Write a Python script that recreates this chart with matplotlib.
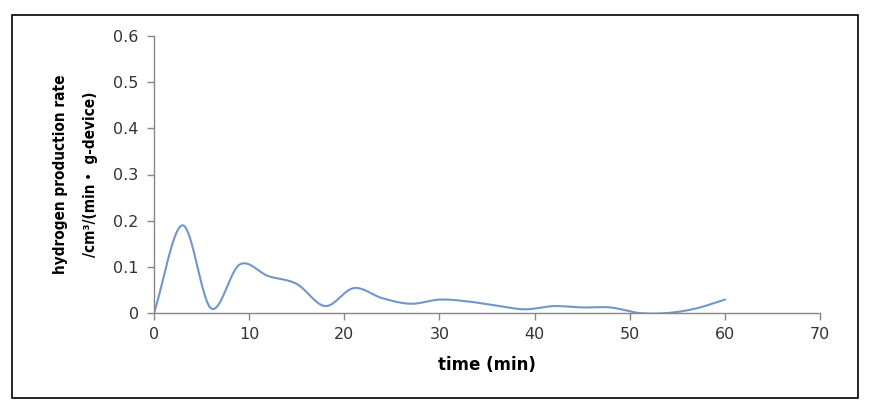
import numpy as np
import matplotlib
matplotlib.use("Agg")
import matplotlib.pyplot as plt
from matplotlib.patches import Rectangle
from matplotlib import font_manager

time_min = [0, 3, 6, 9, 12, 15, 18, 21, 24, 27, 30, 33, 36, 39, 42, 45, 48, 51, 54, 57, 60]
rate = [0.0, 0.19, 0.01, 0.105, 0.08, 0.063, 0.015, 0.054, 0.032, 0.02, 0.029, 0.025, 0.016, 0.008, 0.015, 0.012, 0.012, 0.0, 0.0, 0.01, 0.029]
x_ticks = [0, 10, 20, 30, 40, 50, 60, 70]
y_ticks = [0, 0.1, 0.2, 0.3, 0.4, 0.5, 0.6]
y_label_1 = 'hydrogen production rate'
y_label_2 = '/cm³/(min・ g-device)'
x_label = 'time (min)'


def smooth(xs, ys, n=30):
    # Catmull-Rom style smoothing similar to Excel's smoothed line
    xs = np.asarray(xs, float)
    ys = np.asarray(ys, float)
    px = np.concatenate([[2 * xs[0] - xs[1]], xs, [2 * xs[-1] - xs[-2]]])
    py = np.concatenate([[2 * ys[0] - ys[1]], ys, [2 * ys[-1] - ys[-2]]])
    outx, outy = [], []
    t = np.linspace(0, 1, n, endpoint=False)
    for i in range(1, len(px) - 2):
        for arr, pts in ((outx, px[i - 1:i + 3]), (outy, py[i - 1:i + 3])):
            a, b, c, d = pts
            arr.extend(0.5 * ((2 * b) + (-a + c) * t + (2 * a - 5 * b + 4 * c - d) * t ** 2
                              + (-a + 3 * b - 3 * c + d) * t ** 3))
    outx.append(xs[-1])
    outy.append(ys[-1])
    return np.array(outx), np.array(outy)


cond = any(f.name == 'DejaVu Sans' and str(f.stretch) in ('condensed', '400', 'semi-condensed')
           and f.weight in ('bold', 700) for f in font_manager.fontManager.ttflist)
fam = ['DejaVu Sans', 'Noto Sans CJK JP']
lab_size = 11 if cond else 10
stretch = 'condensed' if cond else 'normal'

fig = plt.figure(figsize=(8.75, 4.07), dpi=100)
fig.patches.append(Rectangle((12 / 875, 9 / 407), 846 / 875, 383 / 407, transform=fig.transFigure,
                             fill=False, edgecolor='black', linewidth=1.2))
ax = fig.add_axes([154 / 875, (407 - 313) / 407, (820 - 154) / 875, (313 - 36) / 407])

sx, sy = smooth(time_min, rate)
ax.plot(sx, sy, color='#7097CC', linewidth=1.5)

ax.set_xlim(0, 70)
ax.set_ylim(0, 0.6)
ax.set_xticks(x_ticks)
ax.set_xticklabels([str(v) for v in x_ticks])
ax.set_yticks(y_ticks)
ax.set_yticklabels(['0' if v == 0 else f'{v:.1f}' for v in y_ticks])
for s in ['top', 'right']:
    ax.spines[s].set_visible(False)
for s in ['left', 'bottom']:
    ax.spines[s].set_color('#868686')
    ax.spines[s].set_linewidth(1.0)
ax.tick_params(axis='both', direction='out', length=5, color='#868686', labelsize=11.5,
               labelcolor='#333333', width=1.0)
ax.tick_params(axis='y', pad=6)
ax.tick_params(axis='x', pad=5)

ax.set_xlabel(x_label, fontsize=12, fontweight='bold', labelpad=10)

fig.text(60 / 875, 1 - 174 / 407, y_label_1, rotation=90, ha='center', va='center',
         fontsize=lab_size, fontweight='bold', family=fam, fontstretch=stretch)
fig.text(91 / 875, 1 - 174 / 407, y_label_2, rotation=90, ha='center', va='center',
         fontsize=lab_size, fontweight='bold', family=fam, fontstretch=stretch)

fig.savefig('out.png', dpi=100)
